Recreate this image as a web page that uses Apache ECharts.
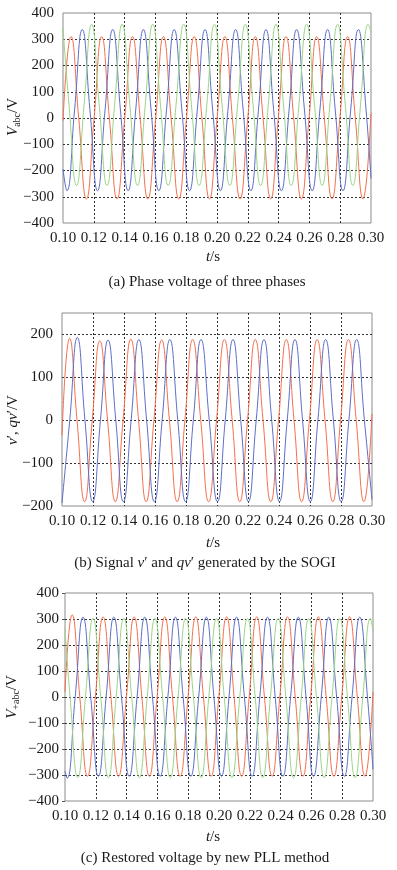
<!DOCTYPE html>
<html>
<head>
<meta charset="utf-8">
<script src="https://cdn.jsdelivr.net/npm/echarts@6/dist/echarts.min.js"></script>
<style>
  html, body { margin: 0; padding: 0; background: #fff; }
  #chart { width: 397px; height: 870px; }
</style>
</head>
<body>
<div id="chart"></div>
<script>
// x axis ticks (s)
const timeTicks = [0.10, 0.12, 0.14, 0.16, 0.18, 0.20, 0.22, 0.24, 0.26, 0.28, 0.30];

// (a) phase voltage of three phases, [t, V] read at peaks / troughs / mid crossings
const phaseRed = [[0.1000,-10],[0.1052,310],[0.1102,0],[0.1152,-308],[0.1202,0],[0.1251,310],[0.1301,0],[0.1351,-308],[0.1401,0],[0.1451,310],[0.1501,0],[0.1551,-308],[0.1602,0],[0.1652,310],[0.1702,0],[0.1752,-308],[0.1802,0],[0.1852,310],[0.1902,0],[0.1951,-308],[0.2001,0],[0.2051,310],[0.2100,0],[0.2150,-308],[0.2200,0],[0.2249,310],[0.2299,0],[0.2349,-308],[0.2398,0],[0.2448,310],[0.2498,0],[0.2548,-308],[0.2598,0],[0.2647,310],[0.2697,0],[0.2747,-308],[0.2798,0],[0.2848,310],[0.2898,0],[0.2948,-308],[0.3000,20]];
const phaseBlue = [[0.1000,-195],[0.1025,-277],[0.1075,30],[0.1125,337],[0.1175,30],[0.1224,-277],[0.1273,30],[0.1323,337],[0.1373,30],[0.1423,-277],[0.1472,30],[0.1522,337],[0.1572,30],[0.1622,-277],[0.1672,30],[0.1722,337],[0.1772,30],[0.1822,-277],[0.1872,30],[0.1922,337],[0.1972,30],[0.2022,-277],[0.2071,30],[0.2121,337],[0.2170,30],[0.2220,-277],[0.2269,30],[0.2318,337],[0.2368,30],[0.2418,-277],[0.2468,30],[0.2517,337],[0.2568,30],[0.2618,-277],[0.2668,30],[0.2718,337],[0.2768,30],[0.2818,-277],[0.2868,30],[0.2918,337],[0.2968,30],[0.3000,-230]];
const phaseGreen = [[0.1000,342],[0.1039,50],[0.1088,-257],[0.1137,50],[0.1186,357],[0.1235,50],[0.1286,-257],[0.1335,50],[0.1384,357],[0.1434,50],[0.1484,-257],[0.1534,50],[0.1583,357],[0.1633,50],[0.1683,-257],[0.1734,50],[0.1784,357],[0.1834,50],[0.1884,-257],[0.1934,50],[0.1983,357],[0.2033,50],[0.2083,-257],[0.2134,50],[0.2184,357],[0.2234,50],[0.2283,-257],[0.2333,50],[0.2383,357],[0.2432,50],[0.2482,-257],[0.2532,50],[0.2582,357],[0.2633,50],[0.2683,-257],[0.2733,50],[0.2783,357],[0.2833,50],[0.2882,-257],[0.2932,50],[0.2982,357],[0.3000,330]];

// (b) SOGI outputs v' (red) and qv' (blue)
const sogiV = [[0.1000,-35],[0.1049,191],[0.1097,0],[0.1146,-190],[0.1195,0],[0.1244,185],[0.1294,0],[0.1344,-190],[0.1394,0],[0.1444,189],[0.1494,0],[0.1543,-190],[0.1593,0],[0.1643,187],[0.1693,0],[0.1743,-190],[0.1793,0],[0.1843,188],[0.1895,0],[0.1946,-190],[0.1997,0],[0.2048,188],[0.2098,0],[0.2147,-190],[0.2197,0],[0.2247,188],[0.2297,0],[0.2347,-190],[0.2397,0],[0.2447,188],[0.2497,0],[0.2546,-190],[0.2596,0],[0.2646,188],[0.2697,0],[0.2747,-190],[0.2797,0],[0.2848,188],[0.2898,0],[0.2948,-190],[0.3000,15]];
const sogiQV = [[0.1000,-193],[0.1050,0],[0.1099,193],[0.1148,0],[0.1198,-190],[0.1248,0],[0.1297,187],[0.1347,0],[0.1396,-190],[0.1446,0],[0.1496,188],[0.1546,0],[0.1596,-190],[0.1646,0],[0.1696,188],[0.1747,0],[0.1797,-190],[0.1847,0],[0.1897,188],[0.1950,0],[0.2003,-190],[0.2053,0],[0.2103,188],[0.2153,0],[0.2203,-190],[0.2253,0],[0.2303,188],[0.2353,0],[0.2403,-190],[0.2453,0],[0.2503,188],[0.2552,0],[0.2602,-190],[0.2651,0],[0.2701,188],[0.2751,0],[0.2801,-190],[0.2851,0],[0.2901,188],[0.2951,0],[0.3000,-185]];

// (c) restored voltage by new PLL
const restRed = [[0.1000,20],[0.1046,316],[0.1096,0],[0.1146,-305],[0.1197,0],[0.1247,308],[0.1298,0],[0.1348,-305],[0.1399,0],[0.1449,308],[0.1499,0],[0.1548,-305],[0.1598,0],[0.1648,308],[0.1698,0],[0.1748,-305],[0.1799,0],[0.1849,308],[0.1899,0],[0.1949,-305],[0.1999,0],[0.2049,308],[0.2098,0],[0.2147,-305],[0.2196,0],[0.2245,308],[0.2295,0],[0.2345,-305],[0.2395,0],[0.2445,308],[0.2495,0],[0.2545,-305],[0.2595,0],[0.2645,308],[0.2696,0],[0.2746,-305],[0.2797,0],[0.2848,308],[0.2898,0],[0.2948,-305],[0.3000,20]];
const restBlue = [[0.1000,-285],[0.1014,-312],[0.1066,0],[0.1117,307],[0.1167,0],[0.1217,-305],[0.1267,0],[0.1317,307],[0.1367,0],[0.1417,-305],[0.1468,0],[0.1518,307],[0.1568,0],[0.1618,-305],[0.1668,0],[0.1717,307],[0.1767,0],[0.1817,-305],[0.1868,0],[0.1918,307],[0.1967,0],[0.2016,-305],[0.2065,0],[0.2114,307],[0.2165,0],[0.2215,-305],[0.2265,0],[0.2315,307],[0.2365,0],[0.2415,-305],[0.2465,0],[0.2515,307],[0.2565,0],[0.2614,-305],[0.2664,0],[0.2713,307],[0.2764,0],[0.2814,-305],[0.2864,0],[0.2914,307],[0.2964,0],[0.3000,-278]];
const restGreen = [[0.1000,262],[0.1033,0],[0.1083,-310],[0.1133,0],[0.1182,302],[0.1232,0],[0.1282,-310],[0.1332,0],[0.1382,302],[0.1433,0],[0.1483,-310],[0.1534,0],[0.1584,302],[0.1634,0],[0.1684,-310],[0.1734,0],[0.1784,302],[0.1834,0],[0.1884,-310],[0.1934,0],[0.1984,302],[0.2034,0],[0.2084,-310],[0.2135,0],[0.2185,302],[0.2235,0],[0.2284,-310],[0.2334,0],[0.2384,302],[0.2434,0],[0.2484,-310],[0.2534,0],[0.2583,302],[0.2633,0],[0.2683,-310],[0.2734,0],[0.2784,302],[0.2834,0],[0.2884,-310],[0.2934,0],[0.2983,302],[0.3000,255]];

const FONT = '"Liberation Serif", "DejaVu Serif", serif';
const RED = '#f3704e', BLUE = '#5d6ec8', GREEN = '#9bd588';

const minusFmt = v => (v < 0 ? '\u2212' + Math.abs(v) : String(v));

const gridDots = {
  show: true, showMinLine: false, showMaxLine: false,
  lineStyle: { color: '#333', type: [2, 2], width: 1 }
};

function xAx(gridIndex) {
  return {
    type: 'value', gridIndex: gridIndex,
    min: timeTicks[0], max: timeTicks[timeTicks.length - 1], interval: 0.02,
    axisLine: { show: false, onZero: false },
    axisTick: { show: false },
    axisLabel: {
      color: '#1a1a1a', fontFamily: FONT, fontSize: 15, margin: 8,
      formatter: v => v.toFixed(2)
    },
    splitLine: gridDots
  };
}

function yAx(gridIndex, min, max, ticks) {
  return {
    type: 'value', gridIndex: gridIndex, min: min, max: max, interval: 100,
    axisLine: { show: false, onZero: false },
    axisTick: { show: !!ticks, inside: false, length: 3, lineStyle: { color: '#555' } },
    axisLabel: {
      color: '#1a1a1a', fontFamily: FONT, fontSize: 15, margin: ticks ? 6 : 9,
      formatter: v => (v > 200 && max === 250 ? '' : minusFmt(v))
    },
    splitLine: gridDots
  };
}

function line(data, color, idx) {
  return {
    type: 'line', data: data, xAxisIndex: idx, yAxisIndex: idx,
    showSymbol: false, smooth: 0.5, animation: false,
    lineStyle: { color: color, width: 1 }
  };
}

const txt = (x, y, text, rich, rot) => ({
  type: 'text', x: x, y: y, rotation: rot || 0,
  style: {
    text: text, rich: rich, align: 'center', verticalAlign: 'middle',
    fontFamily: FONT, fontSize: 15, fill: '#1a1a1a'
  }
});

const rich = {
  n: { fontFamily: FONT, fontSize: 15, color: '#1a1a1a', lineHeight: 18 },
  i: { fontFamily: FONT, fontSize: 15, fontStyle: 'italic', color: '#1a1a1a', lineHeight: 18 },
  s: { fontFamily: FONT, fontSize: 10, color: '#1a1a1a', verticalAlign: 'bottom', lineHeight: 18 }
};

const chart = echarts.init(document.getElementById('chart'), null, { renderer: 'canvas' });
chart.setOption({
  animation: false,
  backgroundColor: '#fff',
  grid: [
    { left: 63, right: 26, top: 13, height: 210, show: true, borderColor: '#8c8c8c', borderWidth: 1 },
    { left: 62, right: 25, top: 313, height: 193, show: true, borderColor: '#8c8c8c', borderWidth: 1 },
    { left: 65, right: 24, top: 593, height: 208, show: true, borderColor: '#8c8c8c', borderWidth: 1 }
  ],
  xAxis: [xAx(0), xAx(1), xAx(2)],
  yAxis: [yAx(0, -400, 400, false), yAx(1, -200, 250, false), yAx(2, -400, 400, true)],
  series: [
    line(phaseRed, RED, 0), line(phaseBlue, BLUE, 0), line(phaseGreen, GREEN, 0),
    line(sogiV, RED, 1), line(sogiQV, BLUE, 1),
    line(restRed, RED, 2), line(restBlue, BLUE, 2), line(restGreen, GREEN, 2)
  ],
  graphic: [
    txt(13, 117, '{i|V}{s|abc}{n|/V}', rich, Math.PI / 2),
    txt(213, 257, '{i|t}{n|/s}', rich),
    txt(207, 282, '{n|(a) Phase voltage of three phases}', rich),

    txt(13, 420, '{i|v}{n|\u2032, }{i|qv}{n|\u2032/V}', rich, Math.PI / 2),
    txt(213, 543, '{i|t}{n|/s}', rich),
    txt(205, 563, '{n|(b) Signal }{i|v}{n|\u2032 and }{i|qv}{n|\u2032 generated by the SOGI}', rich),

    txt(12, 697, '{i|V}{s|+abc}{n|/V}', rich, Math.PI / 2),
    txt(213, 837, '{i|t}{n|/s}', rich),
    txt(205, 858, '{n|(c) Restored voltage by new PLL method}', rich)
  ]
});
</script>
</body>
</html>
